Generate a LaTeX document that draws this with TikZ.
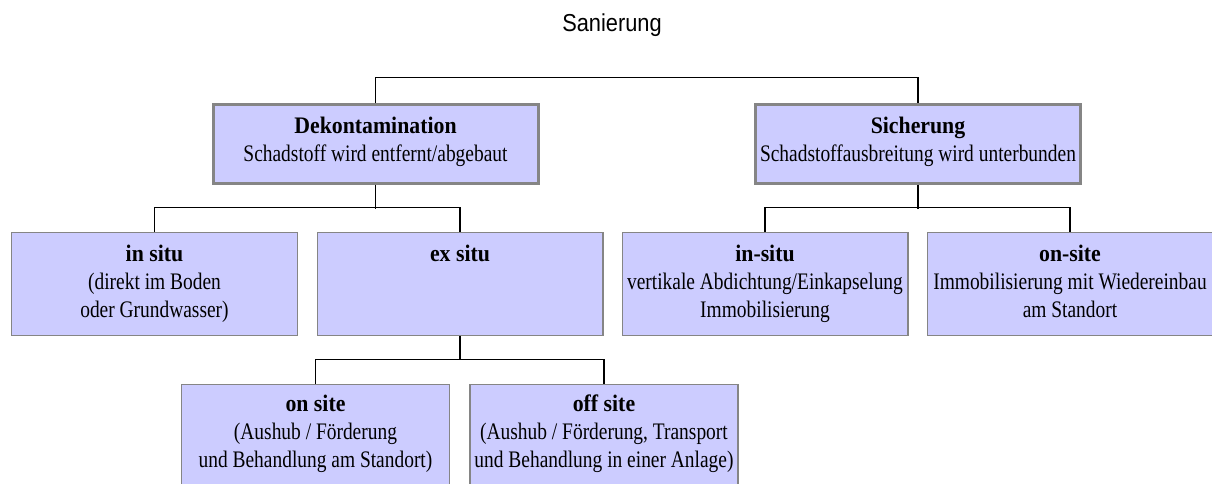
\documentclass[tikz,border=0pt]{standalone}
\usepackage{fontspec}
\setmainfont{Liberation Serif}
\newfontfamily\boxrm[FakeStretch=0.82]{Liberation Serif}
\newfontfamily\boxbf[FakeStretch=0.92]{Liberation Serif Bold}
\newfontfamily\titlesf[FakeStretch=0.89]{Liberation Sans}
\usetikzlibrary{positioning}
\definecolor{boxfill}{HTML}{CCCCFF}
\definecolor{boxline}{HTML}{858585}
\newcommand{\hd}[1]{{\boxbf #1}}
\tikzset{
  plainbox/.style={
    shape = rectangle,
    draw = boxline,
    fill = boxfill,
    align = flush center,
    anchor = north,
    inner xsep = 0pt,
    inner ysep = 0pt,
    font = \boxrm\fontsize{23.7}{28}\selectfont
  },
  mainbox/.style={
    plainbox,
    line width = 3pt,
    text width = 325pt,
    text height = 29pt,
    text depth = 49pt
  },
  subbox/.style={
    plainbox,
    line width = 1.2pt,
    text width = 285.8pt,
    text height = 29.5pt,
    text depth = 73.5pt
  },
  leafbox/.style={
    plainbox,
    line width = 1.2pt,
    text width = 268pt,
    text height = 27.5pt,
    text depth = 76pt
  },
}
\tikzset{
  link/.style={
    line width = 1.4pt,
    draw = black
  },
  headline/.style={
    anchor = base,
    inner sep = 0pt,
    font = \titlesf\fontsize{24.5}{28}\selectfont
  }
}

\begin{document}
\begin{tikzpicture}[x=1pt,y=-1pt]
  \useasboundingbox (0,0) rectangle (1212,484);
  \node[headline] (title) at (612,32) {Sanierung};
  % upper level
  \node[mainbox] (dek) at (375.5,103.5) {\hd{Dekontamination}\\Schadstoff wird entfernt/abgebaut};
  \node[mainbox] (sich) at (918,103.5) {\hd{Sicherung}\\Schadstoffausbreitung wird unterbunden};
  % second level
  \node[subbox] (insitu) at (154.5,231.6) {\hd{in situ}\\(direkt im Boden\\oder Grundwasser)};
  \node[subbox] (exsitu) at (460,231.6) {\hd{ex situ}};
  \node[subbox] (insituS) at (765,231.6) {\hd{in-situ}\\vertikale Abdichtung/Einkapselung\\Immobilisierung};
  \node[subbox] (onsiteS) at (1070,231.6) {\hd{on-site}\\Immobilisierung mit Wiedereinbau\\am Standort};
  % third level
  \node[leafbox] (onsite) at (315.5,383.6) {\hd{on site}\\(Aushub / Förderung\\und Behandlung am Standort)};
  \node[leafbox] (offsite) at (604,383.6) {\hd{off site}\\(Aushub / Förderung, Transport\\und Behandlung in einer Anlage)};
  % connectors
  \draw[link] (dek.north) -- ++(0,-26) -| (sich.north);
  \draw[link] (insitu.north) -- ++(0,-24) -| (exsitu.north);
  \draw[link] (dek.south) -- ++(0,24);
  \draw[link] (insituS.north) -- ++(0,-24) -| (onsiteS.north);
  \draw[link] (sich.south) -- ++(0,24);
  \draw[link] (onsite.north) -- ++(0,-24) -| (offsite.north);
  \draw[link] (exsitu.south) -- ++(0,24);
\end{tikzpicture}
\end{document}
